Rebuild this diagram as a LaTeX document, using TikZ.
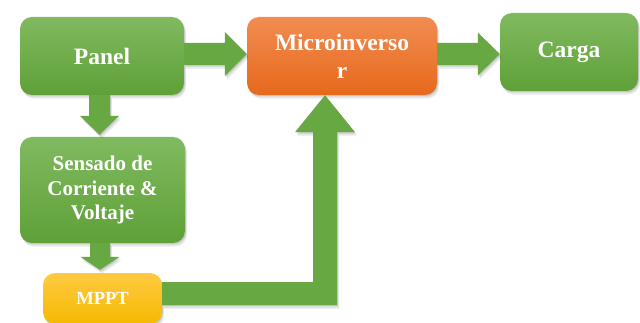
\documentclass[tikz,border=0pt]{standalone}
\usepackage{fontspec}
\setmainfont{Liberation Serif}
\usetikzlibrary{calc,shadows}
\definecolor{gtop}{RGB}{128,186,96}
\definecolor{gbot}{RGB}{95,160,55}
\definecolor{otop}{RGB}{242,140,82}
\definecolor{obot}{RGB}{230,105,28}
\definecolor{ytop}{RGB}{255,202,66}
\definecolor{ybot}{RGB}{245,185,0}
\definecolor{arrowgreen}{RGB}{104,168,66}
\tikzset{
  softshadow/.style={
    general shadow={shadow xshift=0.8pt,shadow yshift=-1.2pt,fill=black,opacity=.10},
    general shadow={shadow xshift=1.5pt,shadow yshift=-2.5pt,fill=black,opacity=.08},
    general shadow={shadow xshift=2.2pt,shadow yshift=-3.8pt,fill=black,opacity=.06}},
  boxbase/.style={rectangle, rounded corners=12pt, text=white, align=center,
    font=\bfseries, inner sep=0pt, softshadow},
  greenbox/.style={boxbase, top color=gtop, bottom color=gbot},
  orangebox/.style={boxbase, top color=otop, bottom color=obot},
  yellowbox/.style={boxbase, top color=ytop, bottom color=ybot},
  blockarrow/.style={fill=arrowgreen, softshadow},
}
\begin{document}
\begin{tikzpicture}[x=1pt,y=-1pt]
\useasboundingbox (0,0) rectangle (640,323);
% nodes
\node[greenbox, minimum width=164pt, minimum height=78pt, font=\bfseries\fontsize{23.5}{28}\selectfont] (panel) at (102,56) {Panel};
\node[orangebox, minimum width=190pt, minimum height=78pt, font=\bfseries\fontsize{23.5}{28}\selectfont] (micro) at (342,56) {Microinverso\\r};
\node[greenbox, minimum width=138pt, minimum height=78pt, font=\bfseries\fontsize{23.5}{28}\selectfont] (carga) at (569,52) {Carga};
\node[greenbox, minimum width=165pt, minimum height=106pt, font=\bfseries\fontsize{21}{24.5}\selectfont] (sens) at (102.5,190) {Sensado de\\Corriente \&\\Voltaje};
\node[yellowbox, minimum width=119pt, minimum height=51pt, font=\bfseries\fontsize{18.5}{22}\selectfont] (mppt) at (102.5,298.5) {MPPT};
% Panel -> Microinversor
\coordinate (a1) at ([yshift=2pt]panel.east);
\coordinate (a2) at (a1 -| micro.west);
\fill[blockarrow] ($(a1)+(0,-11)$) -- ($(a2)+(-22,-11)$) -- ($(a2)+(-22,-22)$) -- (a2)
  -- ($(a2)+(-22,22)$) -- ($(a2)+(-22,11)$) -- ($(a1)+(0,11)$) -- cycle;
% Microinversor -> Carga
\coordinate (b1) at ([yshift=2pt]micro.east);
\coordinate (b2) at (b1 -| carga.west);
\fill[blockarrow] ($(b1)+(0,-11)$) -- ($(b2)+(-22,-11)$) -- ($(b2)+(-22,-21.5)$) -- (b2)
  -- ($(b2)+(-22,21.5)$) -- ($(b2)+(-22,11)$) -- ($(b1)+(0,11)$) -- cycle;
% Panel -> Sensado
\coordinate (c1) at ([xshift=-2.5pt]panel.south);
\coordinate (c2) at ([yshift=2pt]c1 |- sens.north);
\fill[blockarrow] ($(c1)+(-10.5,0)$) -- ($(c2)+(-10.5,-19)$) -- ($(c2)+(-19.5,-19)$) -- (c2)
  -- ($(c2)+(19.5,-19)$) -- ($(c2)+(10.5,-19)$) -- ($(c1)+(10.5,0)$) -- cycle;
% Sensado -> MPPT
\coordinate (d1) at ([xshift=-2.5pt]sens.south);
\coordinate (d2) at ([yshift=3pt]d1 |- mppt.north);
\fill[blockarrow] ($(d1)+(-10,0)$) -- ($(d2)+(-10,-13)$) -- ($(d2)+(-19.5,-13)$) -- (d2)
  -- ($(d2)+(19.5,-13)$) -- ($(d2)+(10,-13)$) -- ($(d1)+(10,0)$) -- cycle;
% MPPT -> Microinversor
\coordinate (m1) at ([yshift=5pt]mppt.east);
\coordinate (m2) at ([xshift=-17pt]micro.south);
\coordinate (mc) at (m1 -| m2);
\fill[blockarrow] ($(m1)+(0,-11.5)$) -- ($(mc)+(-12,-11.5)$) -- ($(m2)+(-12,37)$) -- ($(m2)+(-30,37)$)
  -- (m2) -- ($(m2)+(30,37)$) -- ($(m2)+(12,37)$) -- ($(mc)+(12,11.5)$) -- ($(m1)+(0,11.5)$) -- cycle;
\end{tikzpicture}
\end{document}
